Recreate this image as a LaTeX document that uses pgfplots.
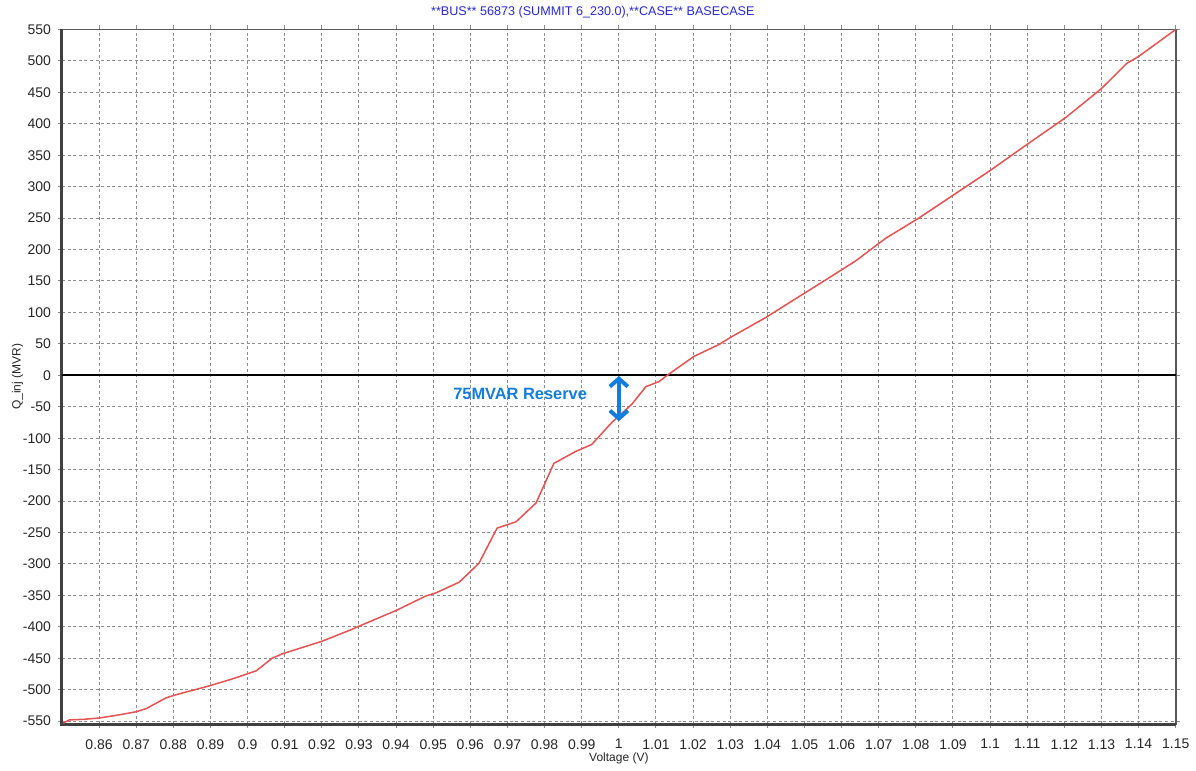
\documentclass[border=0pt]{standalone}
\usepackage{pgfplots}
\pgfplotsset{compat=1.18}
\usepackage{fontspec}
\setmainfont{Liberation Sans}
\usetikzlibrary{arrows.meta}

\definecolor{curve}{RGB}{228,82,82}
\definecolor{gridc}{RGB}{140,140,140}
\definecolor{titleblue}{RGB}{40,40,210}
\definecolor{annblue}{RGB}{20,125,220}

\begin{document}
\begin{tikzpicture}
\begin{axis}[
  scale only axis,
  width=557pt, height=347.5pt,
  xmin=0.85, xmax=1.15, ymin=-555, ymax=550,
  xtick={0.86,0.87,0.88,0.89,0.9,0.91,0.92,0.93,0.94,0.95,0.96,0.97,0.98,0.99,1,
         1.01,1.02,1.03,1.04,1.05,1.06,1.07,1.08,1.09,1.1,1.11,1.12,1.13,1.14,1.15},
  ytick={-550,-500,...,550},
  /pgf/number format/assume math mode=true,
  /pgf/number format/.cd, fixed, precision=2, /pgfplots/.cd,
  ticklabel style={font=\fontsize{7}{8}\selectfont, text=black!85},
  xticklabel style={yshift=-2pt},
  grid=major,
  major grid style={gridc, line width=0.5pt, dash pattern=on 1.5pt off 1.3pt},
  tick align=outside,
  major tick length=2pt,
  tick style={gridc, line width=0.5pt},
  axis line style={draw=black!65, line width=0.8pt},
  title={**BUS** 56873 (SUMMIT 6\_230.0),**CASE** BASECASE},
  title style={font=\fontsize{6.3}{7}\selectfont, text=titleblue, yshift=-4pt, xshift=-13pt},
  xlabel={Voltage (V)},
  ylabel={Q\_inj (MVR)},
  label style={font=\fontsize{6}{7}\selectfont, text=black!85},
  xlabel style={yshift=5pt},
  ylabel style={yshift=-7pt},
  clip=false,
]
\draw[black!75, line width=1.5pt] (rel axis cs:0,1) -- (rel axis cs:0,0) -- (rel axis cs:1,0);
\draw[black, line width=1pt] (axis cs:0.85,0) -- (axis cs:1.15,0);
\addplot[curve, line width=0.75pt] coordinates {
(0.8503,-553) (0.852,-548) (0.856,-547) (0.86,-545) (0.8654,-540) (0.870,-535)
(0.8727,-530) (0.878,-513) (0.8807,-508) (0.8896,-494) (0.8958,-483) (0.9023,-470)
(0.9066,-450) (0.9093,-443) (0.920,-423) (0.9281,-404) (0.930,-399) (0.940,-374)
(0.948,-351) (0.9507,-346) (0.957,-329) (0.9623,-299) (0.9672,-243) (0.9723,-233)
(0.9777,-203) (0.9825,-140) (0.9884,-121) (0.9927,-110) (0.9981,-75) (1.0035,-46)
(1.0073,-18) (1.0108,-10) (1.0135,2) (1.0202,30) (1.027,49) (1.030,60)
(1.0396,92) (1.0493,128) (1.0566,155) (1.0638,182) (1.0719,218) (1.0808,250)
(1.0907,289) (1.0996,324) (1.1104,369) (1.1204,410) (1.13,456) (1.1368,496)
(1.14,507) (1.15,550)
};
\draw[annblue, line width=2pt, {Straight Barb[length=4pt,width=9pt]}-{Straight Barb[length=4pt,width=9pt]}]
  (axis cs:1.0,-1) -- (axis cs:1.0,-73);
\node[annblue, font=\fontsize{8.2}{9}\selectfont\bfseries] at (axis cs:0.9734,-30) {75MVAR Reserve};
\coordinate (sw) at (rel axis cs:0,0);
\coordinate (ne) at (rel axis cs:1,1);
\end{axis}
\path (sw) ++(-31pt,-23pt) rectangle ([shift={(10pt,14.5pt)}]ne);
\end{tikzpicture}
\end{document}
